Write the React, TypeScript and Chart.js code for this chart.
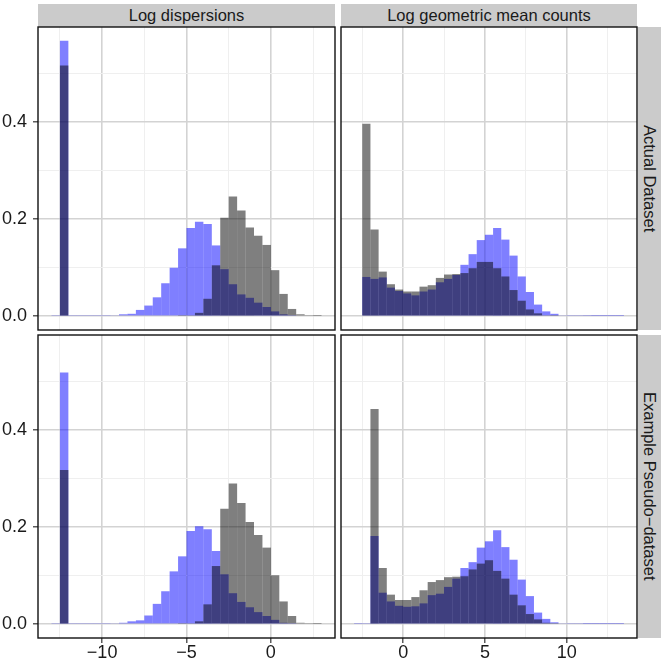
import React, { useEffect, useRef } from 'react';
import { Chart, registerables } from 'chart.js';

Chart.register(...registerables);

// ---------- data ----------
const dispBins = [
  -12.75, -12.25, -11.75, -11.25, -10.75, -10.25, -9.75, -9.25, -8.75, -8.25, -7.75, -7.25,
  -6.75, -6.25, -5.75, -5.25, -4.75, -4.25, -3.75, -3.25, -2.75, -2.25, -1.75, -1.25,
  -0.75, -0.25, 0.25, 0.75, 1.25, 1.75, 2.25, 2.75,
];
const meanBins = [
  -2.75, -2.25, -1.75, -1.25, -0.75, -0.25, 0.25, 0.75, 1.25, 1.75, 2.25, 2.75, 3.25,
  3.75, 4.25, 4.75, 5.25, 5.75, 6.25, 6.75, 7.25, 7.75, 8.25, 8.75, 9.25, 9.75, 10.25,
  10.75, 11.25, 11.75, 12.25, 12.75, 13.25,
];

const actualDispBlue = [
  0.001, 0.568, 0.001, 0.001, 0.001, 0.001, 0.001, 0.002, 0.004, 0.005, 0.013, 0.022,
  0.039, 0.068, 0.1, 0.14, 0.182, 0.195, 0.19, 0.146, 0.097, 0.066, 0.045, 0.038,
  0.028, 0.019, 0.01, 0.004, 0.001, 0, 0, 0,
];
const actualDispGrey = [
  0, 0.517, 0, 0, 0, 0, 0, 0, 0, 0, 0, 0,
  0, 0, 0, 0.001, 0.002, 0.007, 0.036, 0.105, 0.203, 0.247, 0.218, 0.183,
  0.166, 0.147, 0.095, 0.046, 0.015, 0.004, 0.001, 0.0005,
];
const pseudoDispBlue = [
  0.001, 0.519, 0.001, 0.001, 0.001, 0.001, 0.001, 0.002, 0.003, 0.006, 0.008, 0.018,
  0.042, 0.068, 0.109, 0.14, 0.192, 0.202, 0.196, 0.151, 0.103, 0.064, 0.046, 0.035,
  0.025, 0.017, 0.009, 0.003, 0.001, 0, 0, 0,
];
const pseudoDispGrey = [
  0, 0.318, 0, 0, 0, 0, 0, 0, 0, 0, 0, 0,
  0, 0, 0, 0.001, 0.002, 0.006, 0.041, 0.12, 0.238, 0.29, 0.25, 0.211,
  0.184, 0.158, 0.101, 0.047, 0.017, 0.003, 0.001, 0.0005,
];

const actualMeanBlue = [
  0, 0.081, 0.077, 0.08, 0.059, 0.052, 0.047, 0.043, 0.051, 0.055, 0.07, 0.077, 0.085,
  0.106, 0.128, 0.157, 0.168, 0.182, 0.158, 0.125, 0.082, 0.05, 0.024, 0.01, 0.005, 0.002,
  0.001, 0.001, 0.0008, 0.0005, 0.0005, 0.0005, 0.0005,
];
const actualMeanGrey = [
  0, 0.397, 0.179, 0.092, 0.066, 0.055, 0.051, 0.051, 0.061, 0.064, 0.079, 0.086, 0.087,
  0.089, 0.099, 0.112, 0.112, 0.099, 0.082, 0.054, 0.032, 0.014, 0.006, 0.002, 0.001, 0,
  0, 0, 0, 0, 0, 0, 0,
];
const pseudoMeanBlue = [
  0.0008, 0.001, 0.182, 0.065, 0.047, 0.038, 0.036, 0.037, 0.043, 0.06, 0.063, 0.077, 0.094,
  0.116, 0.128, 0.158, 0.171, 0.194, 0.159, 0.133, 0.092, 0.058, 0.024, 0.011, 0.004, 0.002,
  0.001, 0.001, 0.0005, 0.0005, 0.0005, 0.0005, 0.0005,
];
const pseudoMeanGrey = [
  0, 0, 0.444, 0.116, 0.061, 0.05, 0.05, 0.056, 0.07, 0.087, 0.091, 0.097, 0.098,
  0.099, 0.113, 0.125, 0.132, 0.11, 0.094, 0.061, 0.039, 0.021, 0.01, 0.003, 0.001, 0,
  0, 0, 0, 0, 0, 0, 0,
];

const dispMajorTicks = [-10, -5, 0];
const dispMinorTicks = [-12.5, -7.5, -2.5, 2.5];
const meanMajorTicks = [0, 5, 10];
const meanMinorTicks = [-2.5, 2.5, 7.5, 12.5];
const yMajorTicks = [0, 0.2, 0.4];
const yMinorTicks = [0.1, 0.3, 0.5];

const columnTitles = ['Log dispersions', 'Log geometric mean counts'];
const rowTitles = ['Actual Dataset', 'Example Pseudo\u2212dataset'];

// ---------- styling ----------
const FONT = '"Liberation Sans", Arial, Helvetica, sans-serif';
const BLUE = 'rgba(0,0,255,0.5)';
const GREY = 'rgba(0,0,0,0.5)';
const MAJOR = '#d3d3d3';
const MINOR = '#efefef';
const Y_MIN = -0.0284;
const Y_MAX = 0.5964;

const isIn = (arr: number[], v: number) => arr.some((m) => Math.abs(m - v) < 1e-9);
const fmtX = (v: number) => (v < 0 ? '\u2212' + Math.abs(v) : String(v));

type PanelProps = {
  left: number;
  top: number;
  width: number;
  height: number;
  bins: number[];
  blue: number[];
  grey: number[];
  xMin: number;
  xMax: number;
  xMajor: number[];
  xMinor: number[];
  showX: boolean;
  showY: boolean;
};

const panelBorder = {
  id: 'panelBorder',
  afterDraw(chart: any) {
    const { ctx, chartArea } = chart;
    ctx.save();
    ctx.strokeStyle = '#111';
    ctx.lineWidth = 1.4;
    ctx.strokeRect(chartArea.left, chartArea.top, chartArea.right - chartArea.left, chartArea.bottom - chartArea.top);
    ctx.restore();
  },
};

function Panel(p: PanelProps) {
  const ref = useRef<HTMLCanvasElement>(null);
  const L = p.showY ? 38 : 2;
  const B = p.showX ? 32 : 2;
  const T = 2;
  const R = 2;
  const cw = p.width + L + R;
  const ch = p.height + T + B;

  useEffect(() => {
    if (!ref.current) return;
    const xTicks = [...p.xMajor, ...p.xMinor].sort((a, b) => a - b);
    const yTicks = [...yMajorTicks, ...yMinorTicks].sort((a, b) => a - b);
    const zeroPad = (s: any) => {
      s.paddingTop = 0;
      s.paddingBottom = 0;
      s.paddingLeft = 0;
      s.paddingRight = 0;
    };
    const chart = new Chart(ref.current, {
      type: 'bar',
      data: {
        datasets: [
          {
            label: 'grey',
            data: p.bins.map((x, i) => ({ x, y: p.grey[i] })),
            backgroundColor: GREY,
            borderWidth: 0,
            inflateAmount: 0,
            grouped: false,
            order: 0,
          } as any,
          {
            label: 'blue',
            data: p.bins.map((x, i) => ({ x, y: p.blue[i] })),
            backgroundColor: BLUE,
            borderWidth: 0,
            inflateAmount: 0,
            grouped: false,
            order: 1,
          } as any,
        ],
      },
      options: {
        responsive: false,
        animation: false,
        events: [],
        layout: { padding: { top: T, right: R, left: 0, bottom: 0 } },
        datasets: { bar: { barPercentage: 1, categoryPercentage: 1, grouped: false, inflateAmount: 0 } } as any,
        plugins: { legend: { display: false }, tooltip: { enabled: false } },
        scales: {
          x: {
            type: 'linear',
            min: p.xMin,
            max: p.xMax,
            offset: false,
            border: { display: false },
            grid: {
              offset: false,
              color: (c: any) => (isIn(p.xMajor, c.tick.value) ? MAJOR : MINOR),
              lineWidth: (c: any) => (isIn(p.xMajor, c.tick.value) ? 1.6 : 1),
              drawTicks: p.showX,
              tickLength: 5,
              tickWidth: 1.2,
              tickColor: (c: any) => (isIn(p.xMajor, c.tick.value) ? '#333' : 'rgba(0,0,0,0)'),
            } as any,
            ticks: {
              display: p.showX,
              autoSkip: false,
              maxRotation: 0,
              minRotation: 0,
              padding: 1,
              color: '#1a1a1a',
              font: { family: FONT, size: 18, lineHeight: 1 },
              callback: (v: any) => (isIn(p.xMajor, Number(v)) ? fmtX(Number(v)) : ''),
            },
            afterBuildTicks: (s: any) => {
              s.ticks = xTicks.map((v) => ({ value: v }));
            },
            afterFit: (s: any) => {
              s.height = B;
              zeroPad(s);
            },
          },
          y: {
            type: 'linear',
            min: Y_MIN,
            max: Y_MAX,
            border: { display: false },
            grid: {
              color: (c: any) => (isIn(yMajorTicks, c.tick.value) ? MAJOR : MINOR),
              lineWidth: (c: any) => (isIn(yMajorTicks, c.tick.value) ? 1.6 : 1),
              drawTicks: p.showY,
              tickLength: 5,
              tickWidth: 1.2,
              tickColor: (c: any) => (isIn(yMajorTicks, c.tick.value) ? '#333' : 'rgba(0,0,0,0)'),
            } as any,
            ticks: {
              display: p.showY,
              autoSkip: false,
              padding: 6,
              color: '#1a1a1a',
              font: { family: FONT, size: 18, lineHeight: 1 },
              callback: (v: any) => (isIn(yMajorTicks, Number(v)) ? Number(v).toFixed(1) : ''),
            },
            afterBuildTicks: (s: any) => {
              s.ticks = yTicks.map((v) => ({ value: v }));
            },
            afterFit: (s: any) => {
              s.width = L;
              zeroPad(s);
            },
          },
        },
      } as any,
      plugins: [panelBorder],
    });
    return () => chart.destroy();
  }, []);

  return (
    <canvas
      ref={ref}
      width={cw}
      height={ch}
      style={{ position: 'absolute', left: p.left - L, top: p.top - T, width: cw, height: ch }}
    />
  );
}

const stripStyle: React.CSSProperties = {
  position: 'absolute',
  background: '#cbcbcb',
  color: '#1a1a1a',
  fontFamily: FONT,
  fontSize: 16.5,
  display: 'flex',
  alignItems: 'center',
  justifyContent: 'center',
  whiteSpace: 'nowrap',
  overflow: 'hidden',
};

export default function App() {
  const colX = [38, 341];
  const colW = [297, 296];
  const rowY = [27, 335];
  const panelH = 303;
  const colBins = [dispBins, meanBins];
  const colRange = [
    [-13.8, 3.8],
    [-3.8, 14.3],
  ];
  const colMajor = [dispMajorTicks, meanMajorTicks];
  const colMinor = [dispMinorTicks, meanMinorTicks];
  const blues = [
    [actualDispBlue, actualMeanBlue],
    [pseudoDispBlue, pseudoMeanBlue],
  ];
  const greys = [
    [actualDispGrey, actualMeanGrey],
    [pseudoDispGrey, pseudoMeanGrey],
  ];

  const panels = [];
  for (let r = 0; r < 2; r++) {
    for (let c = 0; c < 2; c++) {
      panels.push(
        <Panel
          key={`p${r}${c}`}
          left={colX[c]}
          top={rowY[r]}
          width={colW[c]}
          height={panelH}
          bins={colBins[c]}
          blue={blues[r][c]}
          grey={greys[r][c]}
          xMin={colRange[c][0]}
          xMax={colRange[c][1]}
          xMajor={colMajor[c]}
          xMinor={colMinor[c]}
          showX={r === 1}
          showY={c === 0}
        />
      );
    }
  }

  return (
    <div style={{ position: 'absolute', left: 0, top: 0, width: 665, height: 666, background: '#fff' }}>
      {columnTitles.map((t, c) => (
        <div key={t} style={{ ...stripStyle, left: colX[c], top: 4, width: colW[c], height: 23 }}>
          {t}
        </div>
      ))}
      {rowTitles.map((t, r) => (
        <div
          key={t}
          style={{ ...stripStyle, left: 638, top: rowY[r], width: 23, height: panelH, writingMode: 'vertical-rl' }}
        >
          {t}
        </div>
      ))}
      {panels}
    </div>
  );
}
